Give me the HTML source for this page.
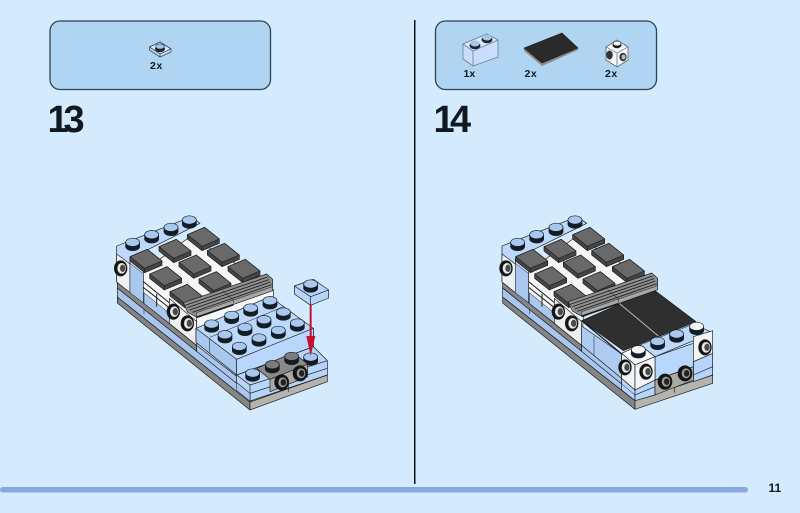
<!DOCTYPE html>
<html><head><meta charset="utf-8"><style>
html,body{margin:0;padding:0;background:#d3ebfd;width:800px;height:513px;overflow:hidden}
svg{display:block}
text{font-family:"Liberation Sans",sans-serif;font-weight:bold;fill:#111820}
</style></head><body>
<svg width="800" height="513" viewBox="0 0 800 513" xmlns="http://www.w3.org/2000/svg">
<defs>
<g id="stud" stroke="none"><ellipse cx="0" cy="7" rx="22" ry="13" fill="#141c26"/><rect x="-22" y="-6" width="44" height="13" fill="#141c26"/><ellipse cx="0" cy="-6" rx="21" ry="12.500" fill="#a9c8ee" stroke="#141c26" stroke-width="2"/></g>
<g id="studw" stroke="none"><ellipse cx="0" cy="7" rx="22" ry="13" fill="#141c26"/><rect x="-22" y="-6" width="44" height="13" fill="#141c26"/><ellipse cx="0" cy="-6" rx="21" ry="12.500" fill="#f4f6f8" stroke="#141c26" stroke-width="2"/></g>
<g id="studg" stroke="none"><ellipse cx="0" cy="7" rx="22" ry="13" fill="#141c26"/><rect x="-22" y="-6" width="44" height="13" fill="#141c26"/><ellipse cx="0" cy="-6" rx="21" ry="12.500" fill="#7c7c7c" stroke="#141c26" stroke-width="2"/></g>
<g id="tile" stroke="#1a1a1a" stroke-width="2" stroke-linejoin="round"><path d="M-48-8L4-30 48 5V18L-4 40-48 5Z" fill="#454545"/><path d="M-48-8L4-30 48 5-4 27Z" fill="#696969"/><path d="M-4 27V40"/></g>
<g id="ring" stroke="none"><ellipse cx="0" cy="0" rx="20" ry="24" fill="#141414"/><ellipse cx="3" cy="0" rx="13" ry="16" fill="#e8e8e8"/><ellipse cx="6" cy="0" rx="8" ry="11" fill="#4a4a4a"/></g>
<g id="ringd" stroke="none"><ellipse cx="0" cy="0" rx="22" ry="24" fill="#141414"/><ellipse cx="3" cy="0" rx="13" ry="15" fill="#9a9a9a"/><ellipse cx="5" cy="0" rx="8" ry="10" fill="#222"/></g>
<g id="grille" stroke="#1a1a1a" stroke-width="2" stroke-linejoin="round"><path d="M0 0L250-86 268-70V-36L40 44 12 28Z" fill="#8f8f8f"/><path d="M5 8L253-77M12 15L257-69M19 22L261-62M27 29L265-54" fill="none" stroke-width="2.500"/><path d="M40 30L268-48V-36L40 44Z" fill="#a8a8a8" stroke-width="1.500"/><path d="M118-36L150-8V2" fill="none" stroke-width="1.500"/><path d="M40 44L150 6" fill="none" stroke-width="5"/></g>
</defs>

<rect x="50" y="21" width="220.500" height="68.500" rx="10" fill="#b0d5f3" stroke="#2b4254" stroke-width="1.300"/>
<rect x="435.500" y="21" width="221" height="68.500" rx="10" fill="#b0d5f3" stroke="#2b4254" stroke-width="1.300"/>

<g stroke="#3a4a5c" stroke-width=".8" stroke-linejoin="round">
<path d="M149.500 47L160 42 171 49V52L160 57 149.500 50Z" fill="#cfe2fa"/>
<path d="M149.500 47L160 54 171 49 160 42Z" fill="#dbeafc"/>
<path d="M160 54V57" fill="none"/>
</g>
<ellipse cx="160" cy="49" rx="5" ry="3.200" fill="#1c2530"/><ellipse cx="160" cy="46.500" rx="4.300" ry="2.600" fill="#a6c6ea" stroke="#1c2530" stroke-width=".6"/>
<text x="150" y="69" font-size="10.500" letter-spacing=".6">2x</text>

<g stroke="#6d7f95" stroke-width=".8" stroke-linejoin="round">
<path d="M463 44L487 34 498 40V57L473 66 463 59Z" fill="#c8defc"/>
<path d="M463 44L473 51 498 40 487 34Z" fill="#dbeafc"/>
<path d="M473 51V66" fill="none"/>
</g>
<ellipse cx="475" cy="45.500" rx="5.500" ry="3.700" fill="#1c2530"/><ellipse cx="475" cy="43.500" rx="4.700" ry="3" fill="#a6c6ea"/>
<ellipse cx="487" cy="39.500" rx="5.500" ry="3.700" fill="#1c2530"/><ellipse cx="487" cy="37.500" rx="4.700" ry="3" fill="#a6c6ea"/>
<text x="463.500" y="77" font-size="10.500">1x</text>

<path d="M524 48L562 33 578 48V50L542 66 524 51Z" fill="#8c8c8c"/>
<path d="M524 48L562 33 578 48 542 63Z" fill="#2a2a2a" stroke="#222" stroke-width=".6"/>
<text x="524.500" y="77" font-size="10.500" letter-spacing=".5">2x</text>

<path d="M606 47L617 40 628 47V60L617 67 606 60Z" fill="#f6f7f8" stroke="#5b6570" stroke-width=".8"/>
<path d="M606 47L617 53 628 47M617 53V67" fill="none" stroke="#5b6570" stroke-width=".7"/>
<ellipse cx="617" cy="45" rx="4.500" ry="3.200" fill="#1c1c1c"/><ellipse cx="617" cy="43.500" rx="3.800" ry="2.300" fill="#fff" stroke="#222" stroke-width=".5"/>
<ellipse cx="609.500" cy="55" rx="3.300" ry="4.500" fill="#333"/><ellipse cx="623" cy="57" rx="3.600" ry="4.300" fill="#333"/><ellipse cx="623.500" cy="57" rx="2" ry="2.500" fill="#bbb"/>
<text x="605" y="77" font-size="10.500" letter-spacing=".5">2x</text>

<text y="132" font-size="38"><tspan x="47.500">1</tspan><tspan x="63.500">3</tspan></text>
<text y="132" font-size="38"><tspan x="433.500">1</tspan><tspan x="450">4</tspan></text>

<rect x="414" y="20" width="1.500" height="464" fill="#10151c"/>
<rect x="0" y="487" width="748" height="5.500" rx="2.700" fill="#87a8dc"/>
<text x="768.500" y="492" font-size="12">11</text>

<!-- LEFT MODEL -->
<g transform="translate(100 200) scale(.33333)" stroke-linejoin="round" stroke="#1a1a1a" stroke-width="2">
<path d="M52 291V309L450 630V606Z" fill="#858585"/>
<path d="M450 606V630L682 545V525Z" fill="#b5b3ae"/>
<path d="M52 264V291L450 606V578Z" fill="#a8c6ee"/>
<path d="M132 314V342" stroke-width="1.500" fill="none"/>
<path d="M52 246V264L290 454V436Z" fill="#858585"/>
<path d="M290 436V454L450 582V560Z" fill="#a8c6ee"/>
<path d="M50 138L275 50 300 70 90 176V276L50 246Z" fill="#bcd8fb"/>
<path d="M50 162L90 192V278L50 246Z" fill="#eef0f2"/>
<path d="M90 190L132 222V310L90 278Z" fill="#a9c8f0" stroke-width="1.500"/>
<path d="M130 215L270 110 490 240 300 350 290 436 130 308Z" fill="#f4f5f6"/>
<path d="M132 278V310L208 370V340Z" fill="#a9c8f0" stroke-width="1.500"/>
<path d="M130 245L210 310M130 262L210 325M170 282V320" fill="none" stroke-width="3"/>
<path d="M208 295L290 365V436L208 370Z" fill="#eceeef"/>
<use href="#tile" x="310" y="112"/><use href="#tile" x="225" y="148"/><use href="#tile" x="138" y="178"/>
<use href="#tile" x="370" y="160"/><use href="#tile" x="285" y="195"/><use href="#tile" x="197" y="230"/>
<use href="#tile" x="432" y="208"/><use href="#tile" x="345" y="245"/><use href="#tile" x="258" y="283"/>
<path d="M290 352L520 268V305L290 388Z" fill="#f5f6f7"/>
<use href="#grille" x="250" y="308"/>
<use href="#stud" x="98" y="133"/><use href="#stud" x="155" y="110"/><use href="#stud" x="213" y="88"/><use href="#stud" x="268" y="66"/>
<use href="#ring" x="62" y="205"/><use href="#ring" x="220" y="335"/><use href="#ring" x="262" y="370"/>
<path d="M410 525L640 440 682 482V525L450 603V580L410 548Z" fill="#b7d5fa"/>
<path d="M410 525L450 555 682 482M450 555V603M450 580L682 505" fill="none"/>
<path d="M410 548V571L450 603V580Z" fill="#a8c6ee" stroke-width="1.500"/>
<path d="M288 385L510 290 640 385V440L410 525 288 427Z" fill="#bcd8fb"/>
<path d="M288 385L410 478V525L288 427Z" fill="#a9c8f0"/>
<path d="M328 415V458" stroke-width="1.500" fill="none"/>
<path d="M410 478L640 385V440L410 525Z" fill="#b9d6fb"/>
<path d="M330 412L550 320" stroke-width="1.500" fill="none"/>
<use href="#stud" x="510" y="308"/><use href="#stud" x="452" y="330"/><use href="#stud" x="395" y="352"/><use href="#stud" x="335" y="378"/>
<use href="#stud" x="550" y="342"/><use href="#stud" x="492" y="365"/><use href="#stud" x="435" y="388"/><use href="#stud" x="375" y="410"/>
<use href="#stud" x="592" y="375"/><use href="#stud" x="535" y="397"/><use href="#stud" x="477" y="420"/><use href="#stud" x="418" y="445"/>
<use href="#stud" x="632" y="477"/><use href="#stud" x="458" y="525"/>
<path d="M510 538L623 492V530L510 575Z" fill="#aaa9a5"/>
<path d="M470 505L580 458 623 492 510 538Z" fill="#8a8a8a"/>
<path d="M565 555V575" fill="none"/>
<use href="#studg" x="517" y="500"/><use href="#studg" x="575" y="475"/>
<use href="#ringd" x="545" y="547"/><use href="#ringd" x="600" y="520"/>
<path d="M583 258L640 238 686 270V294L632 316 583 282Z" fill="#b7d5fa"/>
<path d="M583 258L632 290 686 270M632 290V316" fill="none"/>
<use href="#stud" x="632" y="258"/>
<path d="M632 316V412" stroke="#c8102e" stroke-width="6" fill="none"/>
<path d="M619 408H646L632 468Z" fill="#c8102e" stroke="none"/>
</g>

<!-- RIGHT MODEL -->
<g transform="translate(490 200) scale(.33333)" stroke-linejoin="round" stroke="#1a1a1a" stroke-width="2">
<path d="M38 291V309L435 628V602Z" fill="#858585"/>
<path d="M435 600V628L668 550V525Z" fill="#b5b3ae"/>
<path d="M38 264V291L435 602V575Z" fill="#a8c6ee"/>
<path d="M118 314V342" stroke-width="1.500" fill="none"/>
<path d="M38 246V264L275 454V436Z" fill="#858585"/>
<path d="M275 436V454L395 552V532Z" fill="#a8c6ee"/>
<path d="M36 138L262 50 290 70 76 176V276L36 246Z" fill="#bcd8fb"/>
<path d="M36 162L76 192V278L36 246Z" fill="#eef0f2"/>
<path d="M76 190L118 222V310L76 278Z" fill="#a9c8f0" stroke-width="1.500"/>
<path d="M116 215L258 110 480 240 280 350 275 436 116 308Z" fill="#f4f5f6"/>
<path d="M118 278V310L194 370V340Z" fill="#a9c8f0" stroke-width="1.500"/>
<path d="M116 245L196 310M116 262L196 325M156 282V320" fill="none" stroke-width="3"/>
<path d="M193 295L275 365V436L193 370Z" fill="#eceeef"/>
<use href="#tile" x="296" y="112"/><use href="#tile" x="210" y="148"/><use href="#tile" x="125" y="178"/>
<use href="#tile" x="353" y="160"/><use href="#tile" x="268" y="195"/><use href="#tile" x="182" y="230"/>
<use href="#tile" x="415" y="208"/><use href="#tile" x="327" y="245"/><use href="#tile" x="240" y="283"/>
<path d="M275 378L395 462V535L275 436Z" fill="#aecbf2"/>
<path d="M312 408V466" stroke-width="1.500"/>
<path d="M275 362L490 268 618 365 400 452Z" fill="#2f2f2f"/>
<path d="M275 362L395 462" fill="none" stroke-width="4"/>
<path d="M390 312L505 408" fill="none" stroke="#b9b9b9" stroke-width="3"/>
<use href="#grille" x="235" y="305"/>
<use href="#stud" x="83" y="133"/><use href="#stud" x="140" y="110"/><use href="#stud" x="198" y="88"/><use href="#stud" x="255" y="66"/>
<use href="#ring" x="48" y="205"/><use href="#ring" x="205" y="335"/><use href="#ring" x="245" y="370"/>
<path d="M395 535L435 570V602L395 570Z" fill="#b7d5fa"/>
<path d="M395 552L435 585" fill="none" stroke-width="1.500"/>
<path d="M435 570L495 540V585L435 602Z" fill="#b7d5fa"/>
<path d="M435 585L495 560" fill="none"/>
<path d="M610 485L668 460V525L610 545Z" fill="#b7d5fa"/>
<path d="M610 525L668 500" fill="none"/>
<path d="M495 540L610 500V540L495 585Z" fill="#aaa9a5"/>
<path d="M553 562V578" fill="none"/>
<path d="M495 470L610 430V500L495 540Z" fill="#b9d6fb"/>
<path d="M450 435L610 372 668 398 495 470Z" fill="#bcd8fb"/>
<path d="M610 410L668 392V460L610 485Z" fill="#f2f3f4"/>
<path d="M395 460L450 435 495 470 435 495Z" fill="#f6f7f8"/>
<path d="M395 460L435 495V570L395 535Z" fill="#f2f3f4"/>
<path d="M435 495L495 470V540L435 570Z" fill="#f4f5f6"/>
<use href="#studw" x="620" y="385"/><use href="#stud" x="560" y="408"/><use href="#stud" x="503" y="430"/><use href="#studw" x="445" y="455"/>
<use href="#ring" x="645" y="442"/><use href="#ring" x="405" y="502"/><use href="#ring" x="468" y="515"/>
<use href="#ringd" x="525" y="545"/><use href="#ringd" x="585" y="520"/>
</g>
</svg>
</body></html>
